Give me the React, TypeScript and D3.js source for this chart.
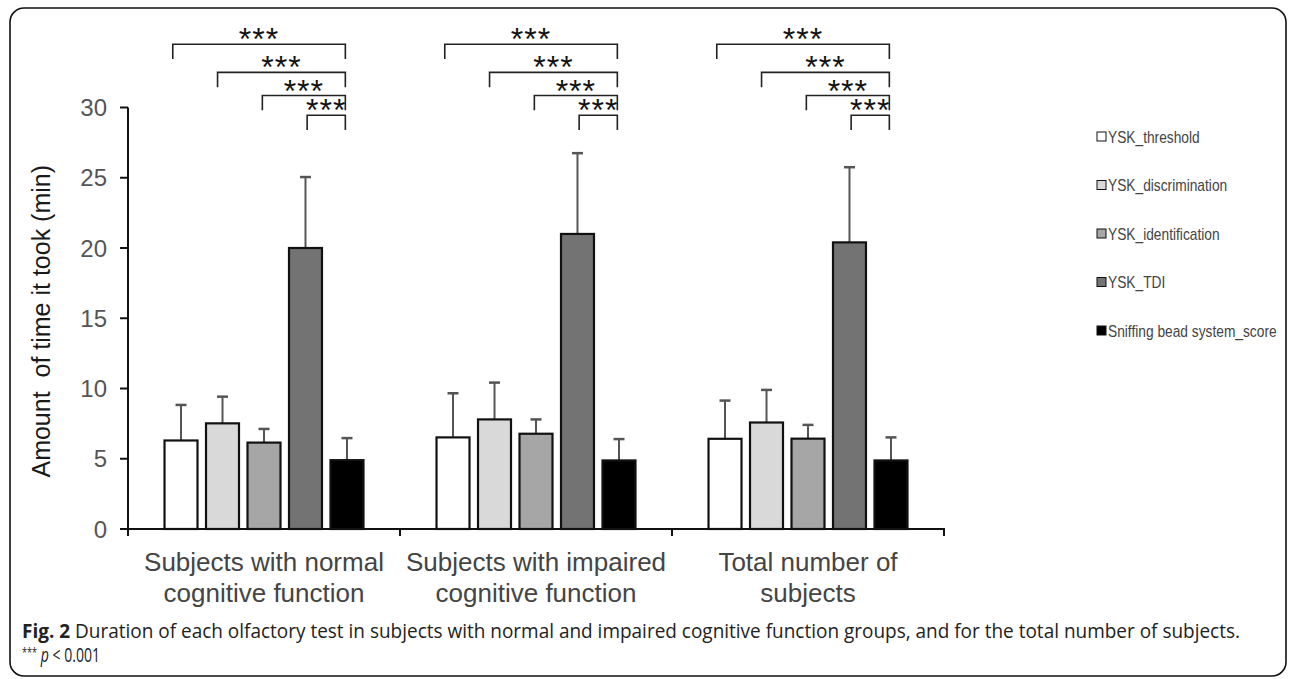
import React from "react";
import * as d3 from "d3";

const categories = [
  ["Subjects with normal", "cognitive function"],
  ["Subjects with impaired", "cognitive function"],
  ["Total number of", "subjects"],
];
const seriesNames = [
  "YSK_threshold",
  "YSK_discrimination",
  "YSK_identification",
  "YSK_TDI",
  "Sniffing bead system_score",
];
const seriesColors = ["#ffffff", "#d9d9d9", "#a6a6a6", "#737373", "#000000"];

// means per category, per series
const threshold = [6.3, 6.52, 6.42];
const discrimination = [7.52, 7.8, 7.58];
const identification = [6.15, 6.78, 6.43];
const tdi = [20.0, 21.0, 20.4];
const sniffing = [4.9, 4.88, 4.88];
const meanSeries = [threshold, discrimination, identification, tdi, sniffing];

// upper error bar ends
const thresholdErr = [8.83, 9.66, 9.14];
const discriminationErr = [9.42, 10.42, 9.9];
const identificationErr = [7.12, 7.8, 7.41];
const tdiErr = [25.05, 26.75, 25.75];
const sniffingErr = [6.47, 6.4, 6.52];
const errSeries = [thresholdErr, discriminationErr, identificationErr, tdiErr, sniffingErr];

const yTicks = [0, 5, 10, 15, 20, 25, 30];

// significance brackets: from series index to last series, at level (data units)
const bracketFrom = [0, 1, 2, 3];
const bracketLevel = [34.5, 32.5, 30.85, 29.45];
const bracketLabel = ["***", "***", "***", "***"];

const FONT = "'Liberation Sans', Arial, sans-serif";

export default function App() {
  const W = 1295;
  const H = 679;
  const x0 = d3.scaleBand<number>().domain([0, 1, 2]).range([128, 944]).padding(0);
  const x1 = d3
    .scaleBand<number>()
    .domain([0, 1, 2, 3, 4])
    .range([0, x0.bandwidth()])
    .paddingInner(0.205)
    .paddingOuter(0.88);
  const y = d3.scaleLinear().domain([0, 30]).range([529, 107.5]);
  const bw = x1.bandwidth();
  const bracketFrac = [0.25, 0.35, 0.45, 0.55];
  const drop = y(0) - y(1.05);

  return (
    <svg
      width={W}
      height={H}
      style={{ position: "absolute", left: 0, top: 0, background: "#fff" }}
      fontFamily={FONT}
    >
      <rect x={10} y={8} width={1276} height={668} rx={14} ry={14} fill="#fff" stroke="#111" strokeWidth={1.6} />

      {/* bars */}
      {categories.map((_, ci) => (
        <g key={ci} transform={`translate(${x0(ci)},0)`}>
          {seriesNames.map((_, si) => {
            const v = meanSeries[si][ci];
            const e = errSeries[si][ci];
            const bx = x1(si)!;
            const cx = bx + bw / 2;
            return (
              <g key={si}>
                <line x1={cx} x2={cx} y1={y(v)} y2={y(e)} stroke="#555" strokeWidth={2} />
                <line x1={cx - 5.5} x2={cx + 5.5} y1={y(e)} y2={y(e)} stroke="#555" strokeWidth={2.5} />
                <rect
                  x={bx}
                  y={y(v)}
                  width={bw}
                  height={y(0) - y(v)}
                  fill={seriesColors[si]}
                  stroke="#111"
                  strokeWidth={2.2}
                />
              </g>
            );
          })}
          {/* brackets */}
          {bracketFrom.map((fi, bi) => {
            const xl = x1(fi)! + bw * bracketFrac[bi];
            const xr = x1(4)! + bw * 0.45;
            const yl = y(bracketLevel[bi]);
            return (
              <g key={bi}>
                <path
                  d={`M${xl},${yl + drop} V${yl} H${xr} V${yl + drop}`}
                  fill="none"
                  stroke="#222"
                  strokeWidth={1.6}
                />
                <text
                  x={(xl + xr) / 2}
                  y={yl + 6}
                  textAnchor="middle"
                  fontSize={32}
                  fill="#111"
                  letterSpacing={1}
                >
                  {bracketLabel[bi]}
                </text>
              </g>
            );
          })}
        </g>
      ))}

      {/* y axis */}
      <line x1={128} x2={128} y1={y(30)} y2={y(0)} stroke="#111" strokeWidth={2} />
      {yTicks.map((t) => (
        <g key={t}>
          <line x1={120} x2={128} y1={y(t)} y2={y(t)} stroke="#111" strokeWidth={2} />
          <text x={107} y={y(t)} dy="0.36em" textAnchor="end" fontSize={24} fill="#555">
            {t}
          </text>
        </g>
      ))}
      <text
        transform={`translate(50,${(y(0) + y(30)) / 2 + 3}) rotate(-90)`}
        textAnchor="middle"
        fontSize={25}
        fill="#1a1a1a"
      >
        {"Amount\u00a0 of time it took (min)"}
      </text>

      {/* x axis */}
      <line x1={127} x2={945} y1={y(0)} y2={y(0)} stroke="#111" strokeWidth={2} />
      {[0, 1, 2, 3].map((i) => {
        const xx = i < 3 ? x0(i)! : x0(2)! + x0.bandwidth();
        return <line key={i} x1={xx} x2={xx} y1={y(0)} y2={y(0) + 7} stroke="#111" strokeWidth={2} />;
      })}
      {categories.map((lines, ci) => (
        <text key={ci} textAnchor="middle" fontSize={26} fill="#444">
          {lines.map((l, li) => (
            <tspan key={li} x={x0(ci)! + x0.bandwidth() / 2} y={571 + li * 31}>
              {l}
            </tspan>
          ))}
        </text>
      ))}

      {/* legend */}
      {seriesNames.map((n, si) => {
        const ly = 137 + si * 48.5;
        return (
          <g key={si}>
            <rect x={1097} y={ly - 5} width={9} height={9} fill={seriesColors[si]} stroke="#111" strokeWidth={1} />
            <text
              transform={`translate(1108,${ly}) scale(0.86,1)`}
              dy="0.36em"
              fontSize={16}
              fill="#444"
            >
              {n}
            </text>
          </g>
        );
      })}

      {/* caption */}
      <text x={22} y={638} fontSize={20} fill="#222" fontFamily="'Open Sans', sans-serif" textLength={1218} lengthAdjust="spacingAndGlyphs">
        <tspan fontWeight="bold">Fig. 2</tspan>
        <tspan> Duration of each olfactory test in subjects with normal and impaired cognitive function groups, and for the total number of subjects.</tspan>
      </text>
      <text x={22} y={662} fontSize={20} fill="#222" fontFamily="'Open Sans', sans-serif" textLength={78} lengthAdjust="spacingAndGlyphs">
        <tspan fontSize={13} dy="-5">***</tspan>
        <tspan dy="5" fontStyle="italic"> p</tspan>
        <tspan> &lt; 0.001</tspan>
      </text>
    </svg>
  );
}
